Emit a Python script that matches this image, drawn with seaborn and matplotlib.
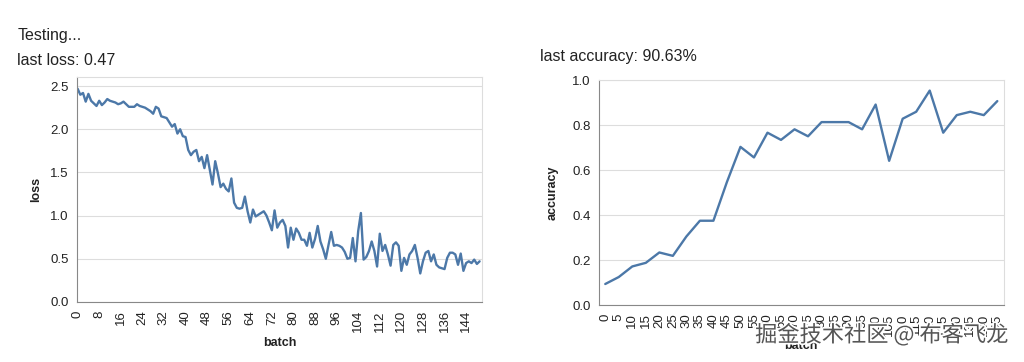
import numpy as np
import pandas as pd
import matplotlib
matplotlib.use("Agg")
import matplotlib.pyplot as plt
import matplotlib.patheffects as pe
from matplotlib.ticker import MultipleLocator
import seaborn as sns

# loss per batch
loss = [
    2.47, 2.40, 2.42, 2.32, 2.41, 2.33, 2.30, 2.27, 2.33, 2.28,
    2.31, 2.35, 2.33, 2.32, 2.31, 2.29, 2.30, 2.32, 2.29, 2.26,
    2.26, 2.26, 2.29, 2.27, 2.26, 2.25, 2.23, 2.21, 2.18, 2.26,
    2.24, 2.15, 2.14, 2.13, 2.08, 2.03, 2.06, 1.95, 2.00, 1.92,
    1.91, 1.76, 1.70, 1.74, 1.76, 1.63, 1.68, 1.55, 1.70, 1.53,
    1.36, 1.63, 1.49, 1.33, 1.37, 1.31, 1.28, 1.43, 1.15, 1.09,
    1.08, 1.09, 1.22, 1.05, 0.92, 1.07, 0.99, 1.01, 1.03, 1.05,
    1.00, 0.92, 0.83, 1.06, 0.86, 0.92, 0.95, 0.88, 0.63, 0.86,
    0.72, 0.85, 0.80, 0.72, 0.72, 0.65, 0.80, 0.63, 0.73, 0.88,
    0.70, 0.61, 0.50, 0.66, 0.81, 0.65, 0.66, 0.65, 0.63, 0.58,
    0.50, 0.51, 0.74, 0.47, 0.82, 1.03, 0.49, 0.52, 0.59, 0.70,
    0.59, 0.41, 0.79, 0.59, 0.66, 0.55, 0.42, 0.66, 0.69, 0.65,
    0.36, 0.51, 0.43, 0.55, 0.59, 0.66, 0.51, 0.33, 0.47, 0.57,
    0.59, 0.47, 0.55, 0.43, 0.40, 0.39, 0.38, 0.51, 0.57, 0.57,
    0.55, 0.43, 0.56, 0.36, 0.45, 0.47, 0.45, 0.49, 0.44, 0.47,
]
loss_batch = list(range(len(loss)))

# test accuracy every 5 batches
acc_batch = list(range(0, 150, 5))
accuracy = [
    0.094, 0.125, 0.172, 0.188, 0.234, 0.219, 0.305, 0.375, 0.375, 0.547,
    0.703, 0.656, 0.766, 0.734, 0.781, 0.750, 0.813, 0.813, 0.813, 0.781,
    0.891, 0.641, 0.828, 0.859, 0.953, 0.766, 0.844, 0.859, 0.844, 0.9063,
]

loss_df = pd.DataFrame({"batch": loss_batch, "loss": loss})
acc_df = pd.DataFrame({"batch": acc_batch, "accuracy": accuracy})

sns.set_style("white")
plt.rcParams["font.family"] = ["Liberation Sans", "DejaVu Sans"]

line_color = "#4c78a8"
axis_color = "#888888"
grid_color = "#dddddd"
text_color = "#222222"

fig = plt.figure(figsize=(10.24, 3.62), dpi=100)
ax1 = fig.add_axes([0.075, 0.166, 0.396, 0.620])
ax2 = fig.add_axes([0.585, 0.157, 0.395, 0.622])


def style_axes(ax):
    ax.grid(axis="y", color=grid_color, linewidth=0.8)
    ax.set_axisbelow(True)
    for side in ["top", "right"]:
        ax.spines[side].set_color(grid_color)
        ax.spines[side].set_linewidth(0.8)
    for side in ["left", "bottom"]:
        ax.spines[side].set_color(axis_color)
        ax.spines[side].set_linewidth(0.8)
    ax.tick_params(axis="both", which="both", color=axis_color, length=4,
                   width=0.6, labelsize=9.5, labelcolor=text_color, pad=2)


# loss chart
sns.lineplot(data=loss_df, x="batch", y="loss", ax=ax1, color=line_color,
             linewidth=1.7)
style_axes(ax1)
ax1.set_xlim(-0.3, 150)
ax1.set_ylim(0, 2.6)
ax1.xaxis.set_major_locator(MultipleLocator(8))
ax1.xaxis.set_minor_locator(MultipleLocator(1))
ax1.set_yticks([0, 0.5, 1.0, 1.5, 2.0, 2.5])
ax1.set_yticklabels(["0.0", "0.5", "1.0", "1.5", "2.0", "2.5"])
ax1.tick_params(axis="x", labelrotation=90)
ax1.set_xlabel("batch", fontsize=9, fontweight="bold", color=text_color,
               labelpad=3)
ax1.set_ylabel("loss", fontsize=9, fontweight="bold", color=text_color,
               labelpad=6)

# accuracy chart
sns.lineplot(data=acc_df, x="batch", y="accuracy", ax=ax2, color=line_color,
             linewidth=1.7)
style_axes(ax2)
ax2.set_xlim(-2.3, 147.3)
ax2.set_ylim(0, 1.0)
ax2.set_xticks(acc_batch)
ax2.set_yticks([0, 0.2, 0.4, 0.6, 0.8, 1.0])
ax2.set_yticklabels(["0.0", "0.2", "0.4", "0.6", "0.8", "1.0"])
ax2.tick_params(axis="x", labelrotation=90)
ax2.set_xlabel("batch", fontsize=9, fontweight="bold", color=text_color,
               labelpad=3)
ax2.set_ylabel("accuracy", fontsize=9, fontweight="bold", color=text_color,
               labelpad=10)

# header texts
fig.text(0.017, 0.903, "Testing...", fontsize=11.5, color=text_color, va="center")
fig.text(0.017, 0.833, f"last loss: {loss[-1]:.2f}", fontsize=11.5,
         color=text_color, va="center")
fig.text(0.527, 0.843, f"last accuracy: {accuracy[-1] * 100:.2f}%",
         fontsize=11.5, color=text_color, va="center")

# site watermark
fig.text(0.985, 0.075, "掘金技术社区 @ 布客飞龙", fontsize=16, ha="right",
         va="center", color="#555555",
         family=["Noto Sans CJK SC", "DejaVu Sans"],
         path_effects=[pe.withStroke(linewidth=2.5, foreground="white")])

fig.savefig("out.png", dpi=100)
